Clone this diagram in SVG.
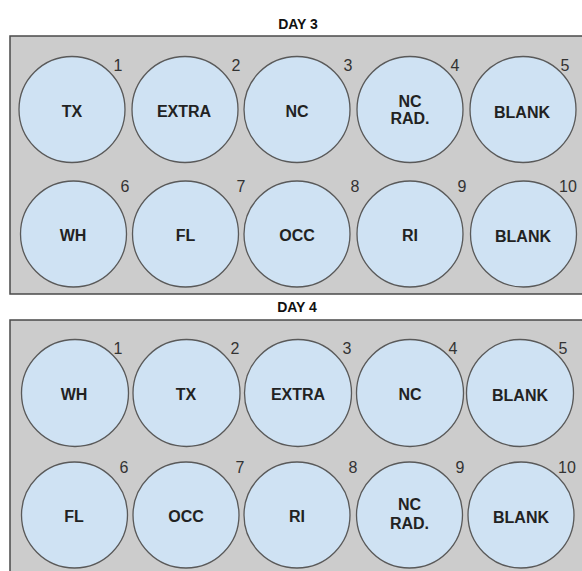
<svg xmlns="http://www.w3.org/2000/svg" width="582" height="571" viewBox="0 0 582 571">
<style>
.panel{fill:#cccccc;stroke:#4a4a4a;stroke-width:1.5}
.well{fill:#cfe2f3;stroke:#595959;stroke-width:1.3}
.lbl{font-family:"Liberation Sans",Arial,sans-serif;font-weight:bold;font-size:16px;fill:#222;text-anchor:middle}
.num{font-family:"Liberation Sans",Arial,sans-serif;font-size:16px;fill:#333;text-anchor:middle}
.title{font-family:"Liberation Sans",Arial,sans-serif;font-weight:bold;font-size:14px;fill:#111;text-anchor:middle}
</style>
<rect x="0" y="0" width="582" height="571" fill="#ffffff"/>
<g id="day3">
<text class="title" x="298" y="29">DAY 3</text>
<rect class="panel" x="10" y="36" width="580" height="258"/>
<g id="d3w1"><circle class="well" cx="72" cy="109.5" r="53"/><text class="lbl" x="72" y="117">TX</text><text class="num" x="118" y="71">1</text></g>
<g id="d3w2"><circle class="well" cx="185" cy="109.5" r="53"/><text class="lbl" x="184" y="117">EXTRA</text><text class="num" x="236" y="71">2</text></g>
<g id="d3w3"><circle class="well" cx="297" cy="109.5" r="53"/><text class="lbl" x="297" y="117">NC</text><text class="num" x="348" y="71">3</text></g>
<g id="d3w4"><circle class="well" cx="410" cy="109.5" r="53"/><text class="lbl" x="410" y="107">NC</text><text class="lbl" x="410" y="123.5">RAD.</text><text class="num" x="455" y="71">4</text></g>
<g id="d3w5"><circle class="well" cx="523" cy="109.5" r="53"/><text class="lbl" x="522" y="118">BLANK</text><text class="num" x="565" y="71">5</text></g>
<g id="d3w6"><circle class="well" cx="73.5" cy="234" r="53"/><text class="lbl" x="73" y="241">WH</text><text class="num" x="125" y="192">6</text></g>
<g id="d3w7"><circle class="well" cx="185.5" cy="234" r="53"/><text class="lbl" x="185.5" y="241">FL</text><text class="num" x="241" y="192">7</text></g>
<g id="d3w8"><circle class="well" cx="297" cy="234" r="53"/><text class="lbl" x="297" y="241">OCC</text><text class="num" x="355" y="192">8</text></g>
<g id="d3w9"><circle class="well" cx="410" cy="234" r="53"/><text class="lbl" x="410" y="241">RI</text><text class="num" x="462" y="192">9</text></g>
<g id="d3w10"><circle class="well" cx="523.5" cy="234" r="53"/><text class="lbl" x="523" y="242">BLANK</text><text class="num" x="568" y="192">10</text></g>
</g>
<g id="day4">
<text class="title" x="297" y="312">DAY 4</text>
<rect class="panel" x="10" y="320" width="580" height="260"/>
<g id="d4w1"><circle class="well" cx="75" cy="393" r="53.5"/><text class="lbl" x="74" y="400">WH</text><text class="num" x="118" y="354">1</text></g>
<g id="d4w2"><circle class="well" cx="186.5" cy="393" r="53.5"/><text class="lbl" x="186" y="400">TX</text><text class="num" x="235" y="354">2</text></g>
<g id="d4w3"><circle class="well" cx="298" cy="393" r="53.5"/><text class="lbl" x="298" y="400">EXTRA</text><text class="num" x="347" y="354">3</text></g>
<g id="d4w4"><circle class="well" cx="410" cy="393" r="53.5"/><text class="lbl" x="410" y="400">NC</text><text class="num" x="453" y="354">4</text></g>
<g id="d4w5"><circle class="well" cx="520" cy="393" r="53.5"/><text class="lbl" x="520" y="401">BLANK</text><text class="num" x="563" y="354">5</text></g>
<g id="d4w6"><circle class="well" cx="74.5" cy="515" r="53"/><text class="lbl" x="74" y="522">FL</text><text class="num" x="124" y="473">6</text></g>
<g id="d4w7"><circle class="well" cx="186" cy="515" r="53"/><text class="lbl" x="186" y="522">OCC</text><text class="num" x="240" y="473">7</text></g>
<g id="d4w8"><circle class="well" cx="297" cy="515" r="53"/><text class="lbl" x="297" y="522">RI</text><text class="num" x="353" y="473">8</text></g>
<g id="d4w9"><circle class="well" cx="409.5" cy="515" r="53"/><text class="lbl" x="409.5" y="509.5">NC</text><text class="lbl" x="409.5" y="528.5">RAD.</text><text class="num" x="460" y="473">9</text></g>
<g id="d4w10"><circle class="well" cx="521" cy="515" r="53"/><text class="lbl" x="521" y="523">BLANK</text><text class="num" x="567" y="473">10</text></g>
</g>
<g id="connectors"/>
</svg>
